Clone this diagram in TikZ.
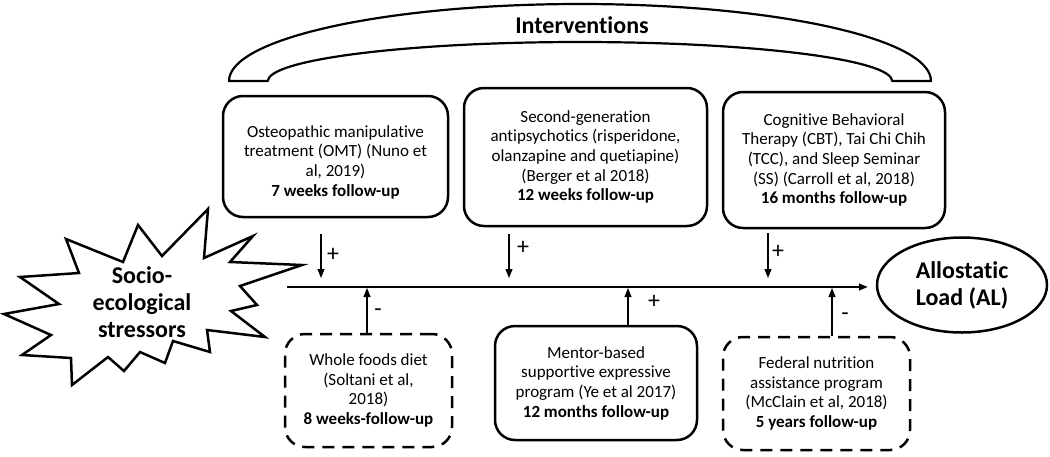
\documentclass[tikz,border=0pt]{standalone}
\usepackage{fontspec}
\setmainfont{Carlito}[Ligatures=NoCommon]
\usetikzlibrary{arrows.meta,shapes.geometric}
\begin{document}
\begin{tikzpicture}[x=1pt,y=1pt,
  box/.style={draw, line width=2.5pt, rounded corners=20pt, align=center, inner sep=0pt, font=\fontsize{17}{19.7}\selectfont},
  dbox/.style={box, dash pattern=on 12pt off 8pt},
  arr/.style={line width=1.2pt, -{Triangle[length=9pt,width=7pt]}},
  sign/.style={font=\fontsize{24}{28}\selectfont, inner sep=0pt},
  big/.style={font=\bfseries\fontsize{24}{27}\selectfont, align=center, inner sep=0pt}
]
\useasboundingbox (0,0) rectangle (1050,-456);

% interventions band
\draw[line width=2.2pt, line join=round] (229,-81)
  arc[start angle=180, end angle=0, x radius=351pt, y radius=77pt]
  -- (892,-81)
  arc[start angle=0, end angle=180, x radius=312pt, y radius=39pt]
  -- cycle;
\node[big] (iv) at (582,-25) {Interventions};

% top boxes
\node[box, minimum width=225pt, minimum height=121pt] (b1) at (335.5,-156.5) {};
\node[align=center, inner sep=0pt, font=\fontsize{17}{19.7}\selectfont] (t1) at (335.5,-162)
  {Osteopathic manipulative\\treatment (OMT) (Nuno et\\al, 2019)\\\textbf{7 weeks follow-up}};
\node[box, minimum width=243pt, minimum height=138pt] (b2) at (585.5,-157)
  {Second-generation\\antipsychotics (risperidone,\\olanzapine and quetiapine)\\(Berger et al 2018)\\\textbf{12 weeks follow-up}};
\node[box, minimum width=222pt, minimum height=136pt] (b3) at (834,-160)
  {Cognitive Behavioral\\Therapy (CBT), Tai Chi Chih\\(TCC), and Sleep Seminar\\(SS) (Carroll et al, 2018)\\\textbf{16 months follow-up}};

% bottom boxes
\node[dbox, minimum width=167pt, minimum height=113pt] (f1) at (368.5,-390.5)
  {Whole foods diet\\(Soltani et al,\\2018)\\\textbf{8 weeks-follow-up}};
\node[box, minimum width=202pt, minimum height=114pt] (f2) at (596,-383)
  {Mentor-based\\supportive expressive\\program (Ye et al 2017)\\\textbf{12 months follow-up}};
\node[dbox, minimum width=187pt, minimum height=113pt] (f3) at (816.5,-393.5)
  {Federal nutrition\\assistance program\\(McClain et al, 2018)\\\textbf{5 years follow-up}};

% star
\draw[line width=2.5pt, line join=miter]
  (66,-239) -- (123,-262) -- (138,-225) -- (162,-256) -- (208,-209) -- (204,-258)
  -- (253,-236) -- (230,-262) -- (302,-265) -- (240,-286) -- (257,-305) -- (231,-311)
  -- (265,-337) -- (207,-330) -- (210,-352) -- (173,-341) -- (165,-363) -- (140,-352)
  -- (124,-371) -- (108,-357) -- (72,-385) -- (71,-358) -- (22,-355) -- (51,-335)
  -- (4,-314) -- (59,-304) -- (20,-277) -- (79,-273) -- cycle;
\node[big] (ses) at (142,-302) {Socio-\\ecological\\stressors};

% allostatic load
\node[draw, ellipse, line width=2.5pt, minimum width=170pt, minimum height=95pt, big] (al) at (962,-285) {Allostatic\\Load (AL)};

% main line
\coordinate (ls) at (287,-287);
\draw[arr, line width=1.3pt, shorten >=8pt] (ls) -- (ls -| al.west);

% down arrows
\coordinate (m1) at (321,-287);
\coordinate (m2) at (509,-287);
\coordinate (m3) at (768,-287);
\draw[arr] ([yshift=-16pt]b1.south -| m1) -- ([yshift=9pt]m1);
\draw[arr] ([yshift=-7pt]b2.south -| m2) -- ([yshift=9pt]m2);
\draw[arr] ([yshift=-4pt]b3.south -| m3) -- ([yshift=9pt]m3);
\node[sign] (p1) at (333,-255) {+};
\node[sign] (p2) at (523,-248) {+};
\node[sign] (p3) at (778,-252) {+};

% up arrows
\coordinate (u1) at (367,-288);
\coordinate (u2) at (628,-288);
\coordinate (u3) at (832,-288);
\draw[arr] (f1.north -| u1) -- (u1);
\draw[arr] (f2.north -| u2) -- (u2);
\draw[arr] (f3.north -| u3) -- (u3);
\node[sign] (n1) at (378,-313) {-};
\node[sign] (p4) at (654,-302) {+};
\node[sign] (n3) at (845,-317) {-};
\end{tikzpicture}
\end{document}
